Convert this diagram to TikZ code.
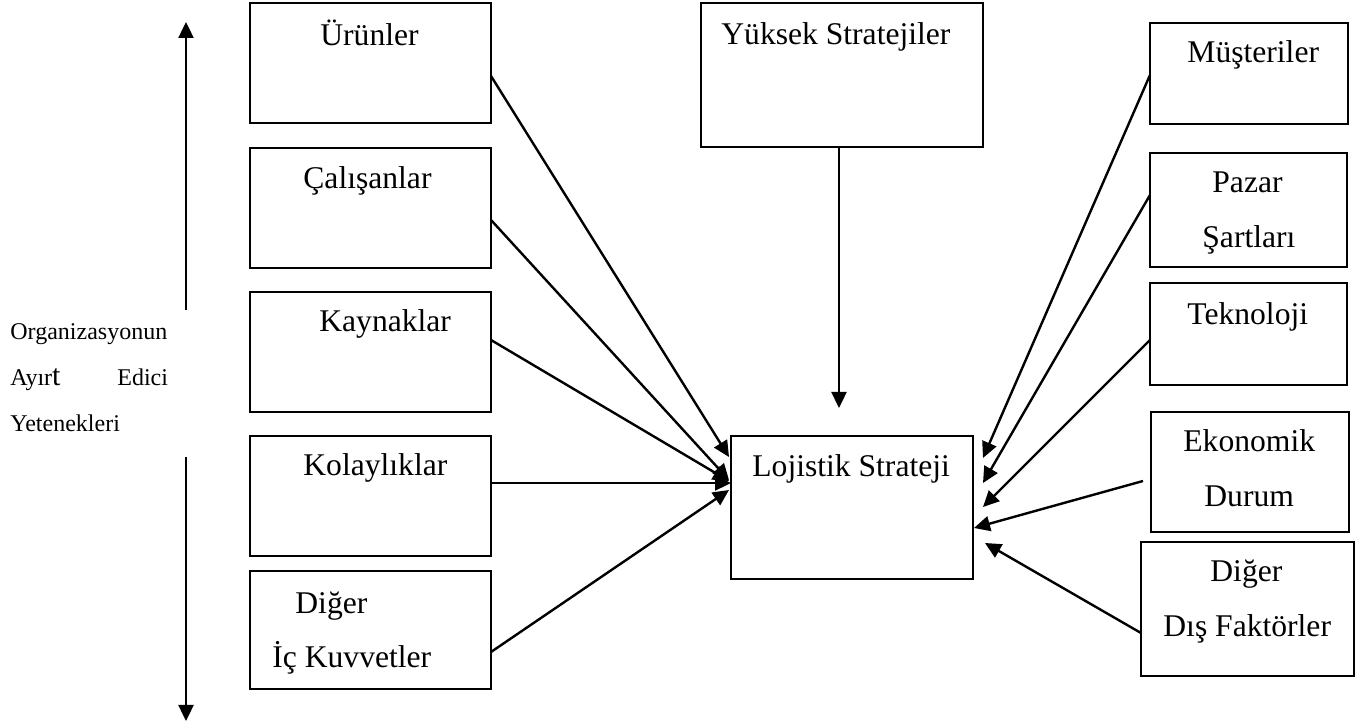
\documentclass[tikz,border=0pt]{standalone}
\usepackage{fontspec}
\setmainfont{Liberation Serif}
\usetikzlibrary{arrows.meta}
\newcommand{\mainsz}{\fontsize{15.8}{19}\selectfont}
\newcommand{\smallsz}{\fontsize{12}{14}\selectfont}
\begin{document}
\begin{tikzpicture}[x=0.5pt,y=-0.5pt,
  box/.style={draw, line width=1pt, rectangle, inner sep=0pt, outer sep=0pt, anchor=north west},
  txt/.style={anchor=base west, inner sep=0pt, font=\mainsz},
  lbl/.style={anchor=base west, inner sep=0pt, font=\smallsz},
  conn/.style={line width=1.2pt, -{Triangle[length=8pt,width=7.5pt]}}]
\useasboundingbox (0,0) rectangle (1367,726);

% left boxes
\node[box, minimum width=120.5pt, minimum height=60pt] (urun) at (250,3) {};
\node[box, minimum width=120.5pt, minimum height=60pt] (calis) at (250,148) {};
\node[box, minimum width=120.5pt, minimum height=60pt] (kayn) at (250,292) {};
\node[box, minimum width=120.5pt, minimum height=60pt] (kolay) at (250,436) {};
\node[box, minimum width=120.5pt, minimum height=59pt] (icd) at (250,571) {};
% centre boxes
\node[box, minimum width=141pt, minimum height=72pt] (yuksek) at (701,3) {};
\node[box, minimum width=121pt, minimum height=71.5pt] (loj) at (731,436) {};
% right boxes
\node[box, minimum width=99pt, minimum height=50.5pt] (must) at (1150,23) {};
\node[box, minimum width=98.5pt, minimum height=57pt] (pazar) at (1150,153) {};
\node[box, minimum width=98.5pt, minimum height=51pt] (tekno) at (1150,283) {};
\node[box, minimum width=99pt, minimum height=60pt] (ekon) at (1151,412) {};
\node[box, minimum width=106.5pt, minimum height=67pt] (dis) at (1141,542) {};

% texts
\node[txt] (turun) at (320,46) {Ürünler};
\node[txt] (tcalis) at (303,189) {Çalışanlar};
\node[txt] (tkayn) at (319,332) {Kaynaklar};
\node[txt] (tkolay) at (303,476) {Kolaylıklar};
\node[txt] (ticda) at (295,614) {Diğer};
\node[txt] (ticdb) at (272,668) {İç Kuvvetler};
\node[txt] (tyuksek) at (721,45) {Yüksek Stratejiler};
\node[txt] (tloj) at (752,477) {Lojistik Strateji};
\node[txt] (tmust) at (1187,63) {Müşteriler};
\node[txt] (tpazara) at (1212,193) {Pazar};
\node[txt] (tpazarb) at (1202,248) {Şartları};
\node[txt] (ttekno) at (1187,325) {Teknoloji};
\node[txt] (tekona) at (1183,452) {Ekonomik};
\node[txt] (tekonb) at (1204,507) {Durum};
\node[txt] (tdisa) at (1210,582) {Diğer};
\node[txt] (tdisb) at (1163,637) {Dış Faktörler};

% left label
\node[lbl] (la) at (10,340) {Organizasyonun};
\node[lbl] (lb) at (10,386) {Ayır{\fontsize{15}{14}\selectfont t}};
\node[lbl] (lc) at (117,386) {Edici};
\node[lbl] (ld) at (10,432) {Yetenekleri};

% vertical arrows
\coordinate (upA) at (186,310);
\coordinate (upB) at (186,22);
\coordinate (dnA) at (186,457);
\coordinate (dnB) at (186,721);
\draw[conn] (upA) -- (upB);
\draw[conn] (dnA) -- (dnB);

% connectors left
\draw[conn] ([yshift=-36.5pt]urun.north east) -- ([xshift=-1pt,yshift=-10.5pt]loj.north west);
\draw[conn] ([yshift=-36pt]calis.north east) -- ([xshift=-1pt,yshift=-22pt]loj.north west);
\draw[conn] ([yshift=-24pt]kayn.north east) -- ([xshift=-1pt,yshift=-22.5pt]loj.north west);
\draw[conn] ([yshift=-23.5pt]kolay.north east) -- ([yshift=-23.5pt]loj.north west);
\draw[conn] ([yshift=-40.5pt]icd.north east) -- ([xshift=-1pt,yshift=-27pt]loj.north west);
% top
\draw[conn] ([xshift=-1.5pt]yuksek.south) -- ([xshift=-6.5pt,yshift=14pt]loj.north);
% right
\draw[conn] ([yshift=-26pt]must.north west) -- ([xshift=5pt,yshift=-11pt]loj.north east);
\draw[conn] ([yshift=-21pt]pazar.north west) -- ([xshift=5pt,yshift=-23.5pt]loj.north east);
\draw[conn] ([yshift=-28.5pt]tekno.north west) -- ([xshift=5pt,yshift=-35.5pt]loj.north east);
\draw[conn] ([xshift=-4pt,yshift=-34.5pt]ekon.north west) -- ([xshift=0.5pt,yshift=-46pt]loj.north east);
\draw[conn] ([yshift=-45.5pt]dis.north west) -- ([xshift=6pt,yshift=-53.5pt]loj.north east);
\end{tikzpicture}
\end{document}
